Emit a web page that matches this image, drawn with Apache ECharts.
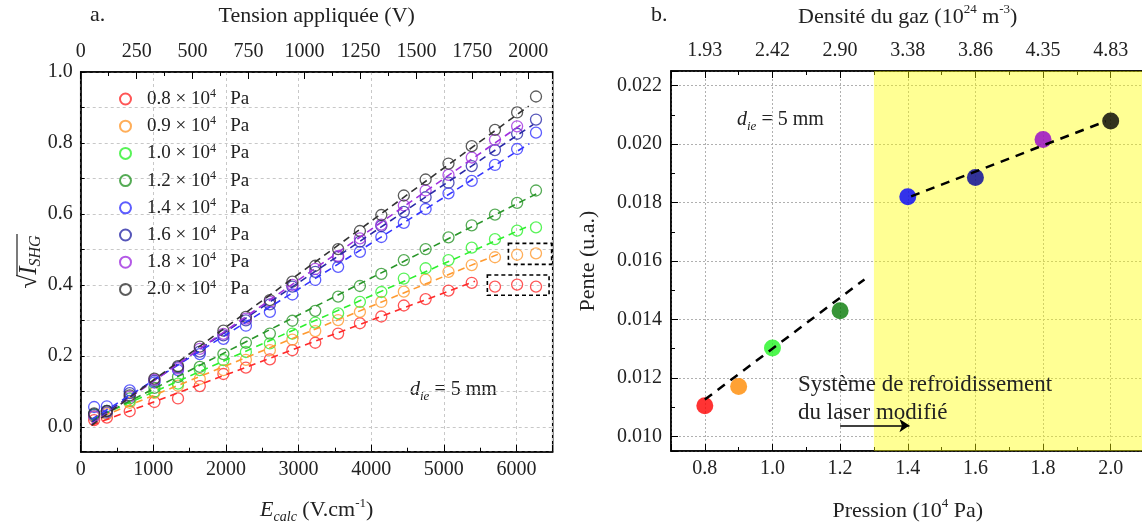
<!DOCTYPE html>
<html><head><meta charset="utf-8">
<script src="https://cdn.jsdelivr.net/npm/echarts@6/dist/echarts.min.js"></script>
<style>html,body{margin:0;padding:0;background:#fff}#c{width:1142px;height:524px}</style>
</head><body><div id="c"></div>
<script>
// ===== Panel a data =====
const fieldE = [185, 360, 675, 1015, 1340, 1640, 1965, 2275, 2605, 2915, 3230, 3545, 3845, 4140, 4450, 4750, 5065, 5385, 5705, 6010, 6270];
const pressureLabels = ['0.8', '0.9', '1.0', '1.2', '1.4', '1.6', '1.8', '2.0'];
const shg08 = [0.019, 0.026, 0.044, 0.070, 0.080, 0.115, 0.149, 0.167, 0.190, 0.216, 0.237, 0.263, 0.292, 0.311, 0.342, 0.360, 0.384, 0.406, 0.395, 0.401, 0.395];
const shg09 = [0.028, 0.036, 0.068, 0.096, 0.116, 0.135, 0.160, 0.189, 0.216, 0.246, 0.270, 0.301, 0.324, 0.352, 0.381, 0.415, 0.437, 0.456, 0.478, 0.485, 0.489];
const shg10 = [0.033, 0.040, 0.073, 0.099, 0.122, 0.160, 0.188, 0.211, 0.235, 0.263, 0.294, 0.320, 0.352, 0.380, 0.418, 0.447, 0.470, 0.505, 0.529, 0.553, 0.562];
const shg12 = [0.035, 0.045, 0.080, 0.110, 0.141, 0.169, 0.205, 0.237, 0.263, 0.299, 0.327, 0.367, 0.397, 0.431, 0.470, 0.501, 0.534, 0.568, 0.598, 0.631, 0.666];
const shg14 = [0.056, 0.058, 0.103, 0.125, 0.160, 0.205, 0.248, 0.285, 0.324, 0.373, 0.414, 0.451, 0.493, 0.535, 0.575, 0.614, 0.658, 0.693, 0.738, 0.783, 0.829];
const shg16 = [0.035, 0.045, 0.095, 0.130, 0.168, 0.212, 0.258, 0.300, 0.345, 0.395, 0.437, 0.479, 0.522, 0.566, 0.606, 0.647, 0.688, 0.735, 0.780, 0.826, 0.866];
const shg18 = [0.030, 0.040, 0.085, 0.133, 0.165, 0.220, 0.262, 0.305, 0.352, 0.400, 0.445, 0.482, 0.531, 0.570, 0.624, 0.666, 0.710, 0.759, 0.809, 0.847, null];
const shg20 = [0.038, 0.044, 0.089, 0.136, 0.171, 0.226, 0.271, 0.310, 0.357, 0.409, 0.454, 0.501, 0.552, 0.597, 0.652, 0.697, 0.742, 0.791, 0.837, 0.886, 0.931];
const fitCount = [18, 19, 21, 21, 21, 21, 20, 21];      // points used for each dashed fit
const fitStartE = 150;
const fitEndE = [5430, 5780, 6200, 6290, 6180, 6230, 6080, 6170];
const tensionMax = 2109;   // V at the right edge (E = 6500 V/cm)

// ===== Panel b data =====
const pressures = [0.8, 0.9, 1.0, 1.2, 1.4, 1.6, 1.8, 2.0];
const slopes = [0.01105, 0.01171, 0.01302, 0.01430, 0.01820, 0.01886, 0.02016, 0.02079];
const pressureTicks = [0.8, 1.0, 1.2, 1.4, 1.6, 1.8, 2.0];
const densityLabels = ['1.93', '2.42', '2.90', '3.38', '3.86', '4.35', '4.83'];
const fitLowP = [0.8, 1.272], fitLowS = [0.01126, 0.01537];
const fitHighP = [1.41, 1.985], fitHighS = [0.01821, 0.02078];

const SERIF = '"Liberation Serif","DejaVu Serif",serif';
const leftColors = ['#ff2a2a', '#ff9a30', '#2ef02e', '#2a962a', '#3535ff', '#2a2aa8', '#a030e0', '#333333'];
const rightColors = ['#ff0000', '#ff8a00', '#22f522', '#067a06', '#0000ff', '#00009a', '#9400cc', '#000000'];
const shgSeries = [shg08, shg09, shg10, shg12, shg14, shg16, shg18, shg20];

function linFit(xs, ys) {
  const n = xs.length; let sx = 0, sy = 0, sxx = 0, sxy = 0;
  for (let i = 0; i < n; i++) { sx += xs[i]; sy += ys[i]; sxx += xs[i] * xs[i]; sxy += xs[i] * ys[i]; }
  const b = (n * sxy - sx * sy) / (n * sxx - sx * sx);
  return { a: (sy - b * sx) / n, b };
}

const tickColor = '#000';
const gridDash = { color: '#c8c8c8', type: [3, 3], width: 1 };
const gridDot = { color: '#b0b0b0', type: [2, 2], width: 1 };
const nameRich = {
  n: { fontFamily: SERIF, fontSize: 22, lineHeight: 28, color: '#222' },
  i: { fontFamily: SERIF, fontSize: 22, lineHeight: 28, fontStyle: 'italic', color: '#222' },
  sub: { fontFamily: SERIF, fontSize: 14, lineHeight: 14, fontStyle: 'italic', verticalAlign: 'bottom', color: '#222' },
  sup: { fontFamily: SERIF, fontSize: 13, lineHeight: 13, verticalAlign: 'top', color: '#222' }
};
const labelStyle = { fontFamily: SERIF, fontSize: 20, color: '#222' };
const plain = v => String(v);

const series = [];
shgSeries.forEach((vals, k) => {
  const pts = fieldE.map((e, i) => [e, vals[i]]).filter(p => p[1] != null);
  const s = {
    type: 'scatter', name: pressureLabels[k], xAxisIndex: 0, yAxisIndex: 0, data: pts,
    symbol: 'circle', symbolSize: 11, z: 3,
    itemStyle: { color: 'rgba(0,0,0,0)', borderColor: leftColors[k], borderWidth: 1.3 }
  };
  if (k === 0) s.markArea = { silent: true, itemStyle: { color: 'rgba(0,0,0,0)', borderColor: '#000', borderWidth: 1.6, borderType: [4, 3] }, data: [[{ coord: [5600, 0.428] }, { coord: [6450, 0.371] }]] };
  if (k === 1) s.markArea = { silent: true, itemStyle: { color: 'rgba(0,0,0,0)', borderColor: '#000', borderWidth: 1.6, borderType: [4, 3] }, data: [[{ coord: [5890, 0.517] }, { coord: [6485, 0.458] }]] };
  series.push(s);
  const used = pts.slice(0, fitCount[k]);
  const f = linFit(used.map(p => p[0]), used.map(p => p[1]));
  series.push({
    type: 'line', name: 'fit' + k, xAxisIndex: 0, yAxisIndex: 0, silent: true, z: 4,
    data: [[fitStartE, f.a + f.b * fitStartE], [fitEndE[k], f.a + f.b * fitEndE[k]]],
    symbol: 'none', lineStyle: { color: leftColors[k], type: [7, 5], width: 1.6 }
  });
});

series.push({
  type: 'scatter', name: 'pente', xAxisIndex: 2, yAxisIndex: 1, z: 3,
  data: pressures.map((p, i) => ({ value: [p, slopes[i]], itemStyle: { color: rightColors[i] } })),
  symbol: 'circle', symbolSize: 17,
  markArea: { silent: true, itemStyle: { color: 'rgba(255,255,0,0.42)' }, data: [[{ coord: [1.3, 0.0095] }, { coord: [2.1, 0.0225] }]] },
  markLine: {
    silent: true, symbol: ['none', 'arrow'], symbolSize: 10, label: { show: false },
    lineStyle: { color: '#000', type: 'solid', width: 1.5 },
    data: [[{ coord: [1.2, 0.01037] }, { coord: [1.405, 0.01037] }]]
  }
});
series.push({ type: 'line', name: 'fitLow', xAxisIndex: 2, yAxisIndex: 1, silent: true, z: 4, symbol: 'none',
  data: fitLowP.map((p, i) => [p, fitLowS[i]]), lineStyle: { color: '#000', type: [9, 7], width: 2.5 } });
series.push({ type: 'line', name: 'fitHigh', xAxisIndex: 2, yAxisIndex: 1, silent: true, z: 4, symbol: 'none',
  data: fitHighP.map((p, i) => [p, fitHighS[i]]), lineStyle: { color: '#000', type: [9, 7], width: 2.5 } });

const axisLineBlack = { show: true, onZero: false, lineStyle: { color: '#000', width: 1.5 } };

const option = {
  animation: false,
  backgroundColor: '#fff',
  textStyle: { fontFamily: SERIF },
  grid: [
    { left: 80.7, top: 72, right: 589.3, bottom: 72.3, show: true, borderColor: '#000', borderWidth: 1.5, backgroundColor: 'rgba(0,0,0,0)', outerBoundsMode: 'none', containLabel: false },
    { left: 671, top: 71, right: -2.5, bottom: 73, show: true, borderColor: '#000', borderWidth: 1.5, backgroundColor: 'rgba(0,0,0,0)', outerBoundsMode: 'none', containLabel: false }
  ],
  legend: {
    orient: 'vertical', left: 114, top: 83, itemWidth: 11, itemHeight: 11, itemGap: 6.7,
    data: pressureLabels, selectedMode: false,
    formatter: name => '{g|}{a|' + name + ' × 10}{s|4}{a|   Pa}',
    textStyle: { fontFamily: SERIF, fontSize: 19, color: '#222', rich: {
      g: { width: 11 },
      a: { fontFamily: SERIF, fontSize: 19, lineHeight: 22, color: '#222' },
      s: { fontFamily: SERIF, fontSize: 12, lineHeight: 12, verticalAlign: 'top', color: '#222' } } }
  },
  xAxis: [
    { type: 'value', gridIndex: 0, position: 'bottom', min: 0, max: 6500, interval: 1000,
      axisLine: axisLineBlack, axisTick: { inside: true, length: 7, lineStyle: { color: tickColor } },
      minorTick: { show: true, splitNumber: 2, length: 4, lineStyle: { color: tickColor } },
      axisLabel: Object.assign({ margin: 8, formatter: plain }, labelStyle),
      splitLine: { show: true, lineStyle: gridDash },
      name: '{i|E}{sub|calc}{n| (V.cm}{sup|-1}{n|)}', nameLocation: 'middle', nameGap: 45,
      nameTextStyle: { rich: nameRich } },
    { type: 'value', gridIndex: 0, position: 'top', min: 0, max: tensionMax, interval: 250,
      axisLine: axisLineBlack, axisTick: { inside: true, length: 7, lineStyle: { color: tickColor } },
      minorTick: { show: true, splitNumber: 2, length: 4, lineStyle: { color: tickColor } },
      axisLabel: Object.assign({ margin: 10, showMaxLabel: false, formatter: plain }, labelStyle),
      splitLine: { show: false },
      name: 'Tension appliquée (V)', nameLocation: 'middle', nameGap: 45,
      nameTextStyle: { fontFamily: SERIF, fontSize: 22, color: '#222' } },
    { type: 'value', gridIndex: 1, position: 'bottom', min: 0.7, max: 2.1, splitNumber: 7,
      axisLine: axisLineBlack, axisTick: { inside: true, length: 7, lineStyle: { color: tickColor } },
      minorTick: { show: true, splitNumber: 2, length: 4, lineStyle: { color: tickColor } },
      axisLabel: Object.assign({ margin: 8, showMinLabel: false, showMaxLabel: false, formatter: v => v.toFixed(1) }, labelStyle),
      splitLine: { show: true, lineStyle: gridDot },
      name: '{n|Pression (10}{sup|4}{n| Pa)}', nameLocation: 'middle', nameGap: 46,
      nameTextStyle: { rich: nameRich } },
    { type: 'value', gridIndex: 1, position: 'top', min: 0.7, max: 2.1, splitNumber: 7,
      axisLine: axisLineBlack, axisTick: { inside: true, length: 7, lineStyle: { color: tickColor } },
      minorTick: { show: true, splitNumber: 2, length: 4, lineStyle: { color: tickColor } },
      axisLabel: Object.assign({ margin: 10, showMinLabel: false, showMaxLabel: false,
        formatter: v => { const i = pressureTicks.findIndex(p => Math.abs(p - v) < 1e-6); return i >= 0 ? densityLabels[i] : ''; } }, labelStyle),
      splitLine: { show: false },
      name: '{n|Densité du gaz (10}{sup|24}{n| m}{sup|-3}{n|)}', nameLocation: 'middle', nameGap: 40,
      nameTextStyle: { rich: nameRich } }
  ],
  yAxis: [
    { type: 'value', gridIndex: 0, min: -0.07, max: 1.0, splitNumber: 5,
      axisLine: axisLineBlack, axisTick: { inside: true, length: 4, lineStyle: { color: tickColor } },
      minorTick: { show: true, splitNumber: 2, length: 4, lineStyle: { color: tickColor } },
      axisLabel: Object.assign({ margin: 8, showMinLabel: false, formatter: v => v.toFixed(1) }, labelStyle),
      splitLine: { show: true, lineStyle: gridDash },
      minorSplitLine: { show: true, lineStyle: gridDash } },
    { type: 'value', gridIndex: 1, min: 0.0095, max: 0.0225, splitNumber: 6,
      axisLine: axisLineBlack, axisTick: { inside: true, length: 7, lineStyle: { color: tickColor } },
      minorTick: { show: true, splitNumber: 2, length: 4, lineStyle: { color: tickColor } },
      axisLabel: Object.assign({ margin: 9, showMinLabel: false, showMaxLabel: false, formatter: v => v.toFixed(3) }, labelStyle),
      splitLine: { show: true, lineStyle: gridDot },
      name: 'Pente (u.a.)', nameLocation: 'middle', nameGap: 72, nameRotate: 90,
      nameTextStyle: { fontFamily: SERIF, fontSize: 22, color: '#222' } }
  ],
  graphic: [
    { type: 'text', left: 90, top: 4, style: { text: 'a.', fontFamily: SERIF, fontSize: 22, fill: '#222' } },
    { type: 'text', left: 651, top: 4, style: { text: 'b.', fontFamily: SERIF, fontSize: 22, fill: '#222' } },
    { type: 'group', x: 29, y: 262, rotation: Math.PI / 2, children: [
      { type: 'text', x: 0, y: 0, style: { text: '{r|√}{i|I}{s|SHG}', align: 'center', verticalAlign: 'middle', fill: '#222',
        rich: { r: { fontFamily: SERIF, fontSize: 25, lineHeight: 30 }, i: { fontFamily: SERIF, fontSize: 25, fontStyle: 'italic', lineHeight: 30 },
                s: { fontFamily: SERIF, fontSize: 16, fontStyle: 'italic', lineHeight: 16, verticalAlign: 'bottom' } } } },
      { type: 'line', shape: { x1: -14, y1: -12, x2: 28, y2: -12 }, style: { stroke: '#222', lineWidth: 1.2 } }
    ] },
    { type: 'text', x: 410, y: 390, style: { text: '{i|d}{s|ie}{n| = 5 mm}', verticalAlign: 'middle', fill: '#222',
      rich: { i: { fontFamily: SERIF, fontSize: 20, fontStyle: 'italic', lineHeight: 26 }, n: { fontFamily: SERIF, fontSize: 20, lineHeight: 26 },
              s: { fontFamily: SERIF, fontSize: 13, fontStyle: 'italic', lineHeight: 13, verticalAlign: 'bottom' } } } },
    { type: 'text', x: 737, y: 120, style: { text: '{i|d}{s|ie}{n| = 5 mm}', verticalAlign: 'middle', fill: '#222',
      rich: { i: { fontFamily: SERIF, fontSize: 20, fontStyle: 'italic', lineHeight: 26 }, n: { fontFamily: SERIF, fontSize: 20, lineHeight: 26 },
              s: { fontFamily: SERIF, fontSize: 13, fontStyle: 'italic', lineHeight: 13, verticalAlign: 'bottom' } } } },
    { type: 'text', x: 798, y: 371, z: 10, style: { text: 'Système de refroidissement\ndu laser modifié', fontFamily: SERIF, fontSize: 23, lineHeight: 28, verticalAlign: 'top', fill: '#222' } }
  ],
  series: series
};

const chart = echarts.init(document.getElementById('c'), null, { renderer: 'canvas' });
chart.setOption(option);
</script>
</body></html>
